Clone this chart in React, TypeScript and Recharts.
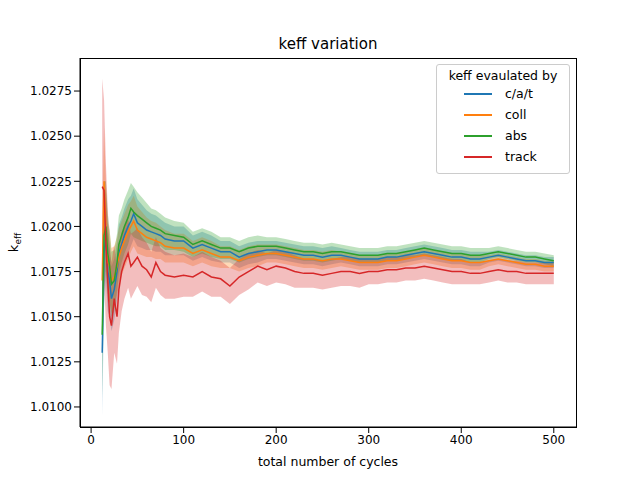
import React from "react";
import { ComposedChart, Area, Line, XAxis, YAxis, Label } from "recharts";

const cycles = [12,14,16,18,20,22,25,28,30,33,36,40,43,46,50,55,60,65,70,75,80,90,100,110,120,130,140,150,160,170,180,190,200,210,220,230,240,250,260,270,280,290,300,310,320,330,340,350,360,370,380,390,400,410,420,430,440,450,460,470,480,490,500];
const cat = [1.0130,1.0185,1.0195,1.0175,1.0170,1.0160,1.0165,1.0175,1.0185,1.0190,1.0195,1.0200,1.0203,1.0207,1.0202,1.0200,1.0198,1.0197,1.0196,1.0195,1.0193,1.0192,1.0192,1.0188,1.0190,1.0188,1.0186,1.0186,1.0183,1.0185,1.0186,1.0187,1.0187,1.0186,1.0185,1.0184,1.0184,1.0183,1.0184,1.0184,1.0183,1.0182,1.0182,1.0182,1.0183,1.0183,1.0184,1.0185,1.0186,1.0185,1.0184,1.0183,1.0183,1.0182,1.0182,1.0183,1.0184,1.0183,1.0182,1.0181,1.0181,1.0180,1.0180];
const coll = [1.0170,1.0225,1.0200,1.0180,1.0178,1.0170,1.0172,1.0178,1.0183,1.0188,1.0192,1.0197,1.0200,1.0203,1.0198,1.0196,1.0194,1.0193,1.0192,1.0191,1.0189,1.0188,1.0188,1.0185,1.0187,1.0185,1.0183,1.0183,1.0181,1.0183,1.0184,1.0185,1.0185,1.0184,1.0183,1.0182,1.0182,1.0181,1.0182,1.0182,1.0181,1.0180,1.0180,1.0180,1.0181,1.0181,1.0182,1.0183,1.0184,1.0183,1.0182,1.0181,1.0181,1.0180,1.0180,1.0181,1.0182,1.0181,1.0180,1.0179,1.0179,1.0178,1.0178];
const abs = [1.0140,1.0195,1.0200,1.0185,1.0178,1.0168,1.0170,1.0180,1.0190,1.0195,1.0200,1.0205,1.0210,1.0208,1.0206,1.0204,1.0202,1.0200,1.0199,1.0198,1.0196,1.0195,1.0194,1.0190,1.0192,1.0190,1.0188,1.0188,1.0186,1.0188,1.0189,1.0189,1.0189,1.0188,1.0187,1.0186,1.0186,1.0185,1.0186,1.0186,1.0185,1.0184,1.0184,1.0184,1.0185,1.0185,1.0186,1.0187,1.0188,1.0187,1.0186,1.0185,1.0185,1.0184,1.0184,1.0185,1.0186,1.0185,1.0184,1.0183,1.0183,1.0182,1.0181];
const track = [1.0222,1.0220,1.0190,1.0170,1.0150,1.0145,1.0160,1.0150,1.0165,1.0175,1.0180,1.0185,1.0178,1.0180,1.0183,1.0178,1.0176,1.0172,1.0180,1.0175,1.0173,1.0172,1.0173,1.0172,1.0175,1.0172,1.0171,1.0167,1.0172,1.0175,1.0178,1.0176,1.0178,1.0177,1.0175,1.0174,1.0174,1.0173,1.0174,1.0175,1.0175,1.0174,1.0175,1.0175,1.0176,1.0176,1.0177,1.0177,1.0178,1.0177,1.0176,1.0175,1.0175,1.0174,1.0174,1.0175,1.0176,1.0175,1.0175,1.0174,1.0174,1.0174,1.0174];
const errTrack = [0.0060,0.0050,0.0045,0.0040,0.0038,0.0035,0.0030,0.0026,0.0024,0.0022,0.0020,0.0019,0.0018,0.0017,0.0016,0.0016,0.0015,0.0014,0.0014,0.0013,0.0013,0.0012,0.0012,0.0011,0.0011,0.0011,0.0010,0.0010,0.0010,0.0010,0.0009,0.0009,0.0009,0.0009,0.0009,0.0008,0.0008,0.0008,0.0008,0.0008,0.0008,0.0008,0.0007,0.0007,0.0007,0.0007,0.0007,0.0007,0.0007,0.0007,0.0007,0.0007,0.0007,0.0006,0.0006,0.0006,0.0006,0.0006,0.0006,0.0006,0.0006,0.0006,0.0006];
const errOther = [0.0035,0.0030,0.0025,0.0022,0.0020,0.0018,0.0017,0.0016,0.0016,0.0015,0.0015,0.0015,0.0014,0.0014,0.0013,0.0012,0.0011,0.0010,0.0010,0.0009,0.0009,0.0008,0.0008,0.0007,0.0007,0.0007,0.0006,0.0006,0.0006,0.0006,0.0006,0.0005,0.0005,0.0005,0.0005,0.0005,0.0005,0.0005,0.0005,0.0004,0.0004,0.0004,0.0004,0.0004,0.0004,0.0004,0.0004,0.0004,0.0004,0.0004,0.0004,0.0004,0.0004,0.0004,0.0004,0.0003,0.0003,0.0003,0.0003,0.0003,0.0003,0.0003,0.0003];
const xTicks = [0,100,200,300,400,500];
const yTicks = [1.01,1.0125,1.015,1.0175,1.02,1.0225,1.025,1.0275];

const series = [
  { key: "cat", name: "c/a/t", color: "#1f77b4", vals: cat, err: errOther },
  { key: "coll", name: "coll", color: "#ff7f0e", vals: coll, err: errOther },
  { key: "abs", name: "abs", color: "#2ca02c", vals: abs, err: errOther },
  { key: "track", name: "track", color: "#d62728", vals: track, err: errTrack },
];

const data = cycles.map((c, i) => {
  const row: any = { x: c };
  series.forEach(s => {
    row[s.key] = s.vals[i];
    row[s.key + "Band"] = [s.vals[i] - s.err[i], s.vals[i] + s.err[i]];
  });
  return row;
});

const font = "DejaVu Sans, sans-serif";

const YLab = (props: any) => {
  const { viewBox } = props;
  const cx = 18, cy = viewBox.y + viewBox.height / 2;
  return (
    <text transform={`rotate(-90 ${cx} ${cy})`} x={cx} y={cy} textAnchor="middle" fontSize={13} fontFamily={font} fill="#000">
      k<tspan fontSize={9} dy={3}>eff</tspan>
    </text>
  );
};

export default function App() {
  return (
    <div style={{ position: "absolute", left: 0, top: 0, width: 640, height: 480, background: "#fff", fontFamily: font }}>
      <div style={{ position: "absolute", top: 35, width: 496, left: 80, textAlign: "center", fontSize: 15 }}>keff variation</div>
      <ComposedChart width={640} height={480} data={data} margin={{ top: 58, right: 64, bottom: 0, left: 0 }}>
        <XAxis dataKey="x" type="number" domain={[-12, 524]} ticks={xTicks} height={53} tick={{ fontSize: 12, fill: "#000", fontFamily: font }} tickLine={{ stroke: "#000" }} axisLine={{ stroke: "#000" }}>
          <Label value="total number of cycles" position="insideBottom" offset={14} style={{ fontSize: 12.5, fill: "#000", fontFamily: font }} />
        </XAxis>
        <YAxis type="number" domain={[1.00889, 1.02933]} ticks={yTicks} width={80} tickFormatter={(v: number) => v.toFixed(4)} tick={{ fontSize: 12, fill: "#000", fontFamily: font }} tickLine={{ stroke: "#000" }} axisLine={{ stroke: "#000" }} allowDataOverflow>
          <Label content={<YLab />} />
        </YAxis>
        {series.map(s => (
          <Area key={s.key + "b"} dataKey={s.key + "Band"} type="linear" stroke="none" fill={s.color} fillOpacity={0.3} isAnimationActive={false} />
        ))}
        {series.map(s => (
          <Line key={s.key} dataKey={s.key} type="linear" stroke={s.color} strokeWidth={1.5} dot={false} isAnimationActive={false} />
        ))}
      </ComposedChart>
      <div style={{ position: "absolute", left: 80, top: 58, width: 495, height: 368, border: "1px solid #000", pointerEvents: "none" }} />
      <div style={{ position: "absolute", left: 436, top: 64, width: 132, height: 108, border: "1px solid #ccc", borderRadius: 3, background: "rgba(255,255,255,0.8)", fontSize: 12.5 }}>
        <div style={{ textAlign: "center", marginTop: 3 }}>keff evaulated by</div>
        {series.map(s => (
          <div key={s.key} style={{ display: "flex", alignItems: "center", height: 21 }}>
            <div style={{ width: 28, height: 2, background: s.color, marginLeft: 27, marginRight: 13 }} />
            <span>{s.name}</span>
          </div>
        ))}
      </div>
    </div>
  );
}
